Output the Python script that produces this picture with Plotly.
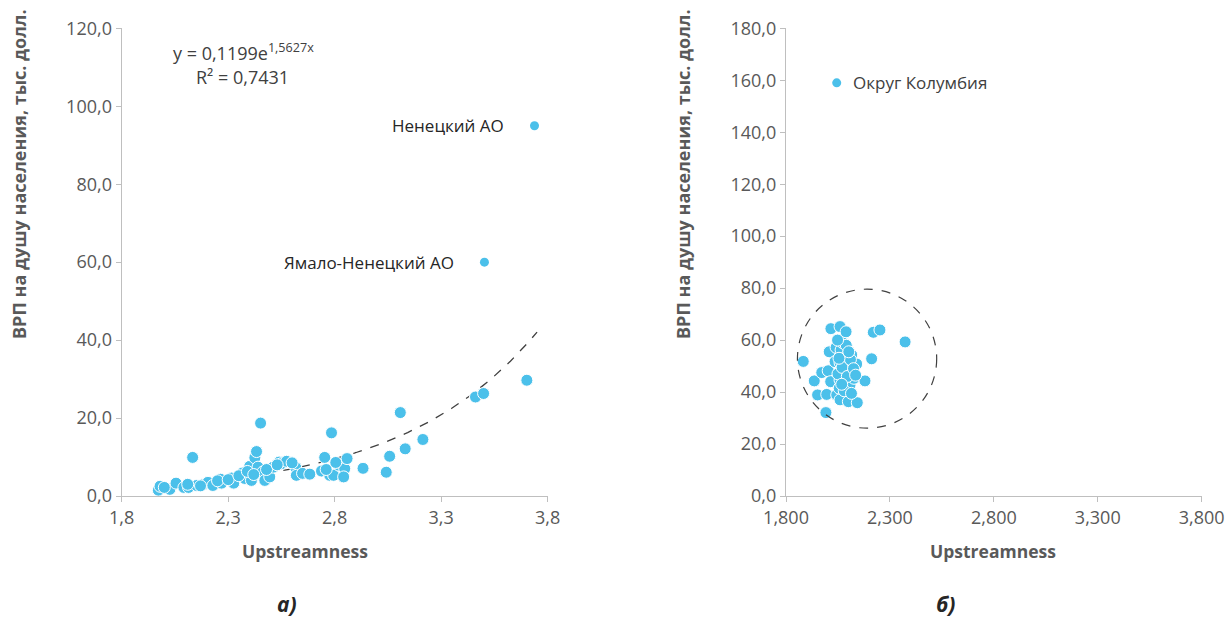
import numpy as np
import plotly.graph_objects as go

# ---- Data: panel a) Russian regions ----
ru_x = [1.972, 1.980, 2.026, 2.055, 2.092, 2.114, 2.133, 2.152, 2.186, 2.205,
        2.228, 2.264, 2.269, 2.316, 2.326, 2.367, 2.378, 2.401, 2.409, 2.425,
        2.433, 2.452, 2.440, 2.464, 2.472, 2.495, 2.511, 2.539, 2.550, 2.574,
        2.617, 2.620, 2.649, 2.683, 2.738, 2.753, 2.777, 2.785, 2.795, 2.820,
        2.847, 2.842, 2.858, 2.933, 3.042, 3.058, 3.108, 3.131, 3.214, 3.461,
        3.499, 3.702,
        2.000, 2.110, 2.170, 2.250, 2.300, 2.350, 2.390, 2.420, 2.480, 2.530,
        2.600, 2.760, 2.805]
ru_y = [1.5, 2.5, 1.7, 3.3, 2.2, 2.2, 9.9, 2.7, 3.0, 3.5,
        2.7, 4.3, 3.3, 4.6, 3.3, 5.9, 4.5, 7.6, 4.0, 9.8,
        11.4, 18.7, 7.4, 6.2, 4.0, 4.9, 7.4, 8.7, 8.3, 8.9,
        7.3, 5.3, 5.8, 5.6, 6.4, 9.9, 5.3, 16.2, 5.3, 7.9,
        7.0, 4.9, 9.6, 7.1, 6.1, 10.2, 21.4, 12.1, 14.5, 25.4,
        26.3, 29.7,
        2.2, 3.0, 2.6, 3.9, 4.2, 5.2, 6.3, 5.5, 6.8, 8.0,
        8.5, 6.8, 8.6]
ru_lab_x = [3.738, 3.503]
ru_lab_y = [95.0, 60.0]
ru_lab_text = ["Ненецкий АО", "Ямало-Ненецкий АО"]

# Trendline shown on chart: y = 0,1199 e^(1,5627x)
trend_a = 0.1199
trend_b = 1.5627

# ---- Data: panel б) US states ----
us_x = [1.883, 1.936, 1.952, 1.972, 1.996, 2.003, 1.992, 2.008, 2.016, 2.015,
        2.036, 2.041, 2.044, 2.060, 2.065, 2.060, 2.060, 2.056, 2.060, 2.073,
        2.084, 2.089, 2.092, 2.100, 2.100, 2.108, 2.116, 2.121, 2.127, 2.140,
        2.143, 2.180, 2.212, 2.220, 2.252, 2.373,
        2.050, 2.070, 2.095, 2.110, 2.125, 2.080, 2.135, 2.055, 2.090, 2.115,
        2.068, 2.102, 2.048]
us_y = [51.8, 44.3, 38.9, 47.5, 39.1, 48.2, 32.1, 55.5, 64.4, 44.0,
        51.7, 57.2, 38.9, 65.2, 56.2, 51.3, 44.6, 41.5, 37.0, 59.0,
        44.6, 63.2, 53.9, 51.1, 36.3, 42.7, 54.3, 47.8, 45.3, 50.8,
        35.9, 44.3, 52.8, 63.0, 63.9, 59.3,
        47.0, 49.5, 46.0, 52.5, 49.0, 40.5, 46.5, 53.0, 58.0, 39.5,
        43.0, 55.5, 60.0]
us_lab_x = [2.044]
us_lab_y = [159.0]
us_lab_text = ["Округ Колумбия"]

# highlighted cluster (ellipse) in panel б)
circle_x = [1.855, 2.525]
circle_y = [26.1, 79.6]

MARKER = "#4BC0EA"
TICK = "#595959"
AXIS = "#BFBFBF"
FONT = "Open Sans"

fig = go.Figure()

# trendline
tx = np.linspace(min(ru_x), 3.75, 200)
ty = trend_a * np.exp(trend_b * tx)
fig.add_trace(go.Scatter(x=tx, y=ty, mode="lines",
                         line=dict(color="#404040", width=1.3, dash="dash"),
                         xaxis="x", yaxis="y", showlegend=False, hoverinfo="skip"))
fig.add_trace(go.Scatter(x=ru_x, y=ru_y, mode="markers",
                         marker=dict(color=MARKER, size=12, line=dict(color="white", width=1)),
                         xaxis="x", yaxis="y", showlegend=False))
fig.add_trace(go.Scatter(x=ru_lab_x, y=ru_lab_y, mode="markers",
                         marker=dict(color=MARKER, size=9),
                         xaxis="x", yaxis="y", showlegend=False))

fig.add_trace(go.Scatter(x=us_x, y=us_y, mode="markers",
                         marker=dict(color=MARKER, size=12, line=dict(color="white", width=1)),
                         xaxis="x2", yaxis="y2", showlegend=False))
fig.add_trace(go.Scatter(x=us_lab_x, y=us_lab_y, mode="markers",
                         marker=dict(color=MARKER, size=9),
                         xaxis="x2", yaxis="y2", showlegend=False))

fig.add_shape(type="circle", xref="x2", yref="y2",
              x0=circle_x[0], x1=circle_x[1], y0=circle_y[0], y1=circle_y[1],
              line=dict(color="#404040", width=1.2, dash="dash"))

ax_common = dict(showgrid=False, zeroline=False, showline=True, linecolor=AXIS,
                 linewidth=1.3, ticks="outside", ticklen=5, tickcolor=AXIS,
                 automargin=False,
                 tickfont=dict(family=FONT, size=18, color=TICK))

ydom = [(617 - 496) / 617, (617 - 28.3) / 617]
fig.update_layout(
    width=1226, height=617,
    margin=dict(l=0, r=0, t=0, b=0, autoexpand=False),
    paper_bgcolor="white", plot_bgcolor="white",
    separators=", ",
    font=dict(family=FONT),
    xaxis=dict(domain=[121.7 / 1226, 547.7 / 1226], range=[1.8, 3.8],
               tickvals=[1.8, 2.3, 2.8, 3.3, 3.8], tickformat=".1f",
               anchor="y", **ax_common),
    yaxis=dict(domain=ydom, range=[0, 120], dtick=20, tickformat=".1f",
               anchor="x", **ax_common),
    xaxis2=dict(domain=[786 / 1226, 1201.7 / 1226], range=[1.8, 3.8],
                tickvals=[1.8, 2.3, 2.8, 3.3, 3.8], tickformat=".3f",
                anchor="y2", **ax_common),
    yaxis2=dict(domain=ydom, range=[0, 180], dtick=20, tickformat=".1f",
                anchor="x2", **ax_common),
)

ann = []
for lx, ly, lt in zip(ru_lab_x, ru_lab_y, ru_lab_text):
    ann.append(dict(text=lt, x=lx, y=ly, xref="x", yref="y", showarrow=False,
                    xanchor="right", yanchor="middle", xshift=-28,
                    font=dict(family=FONT, size=17, color="#262626")))
for lx, ly, lt in zip(us_lab_x, us_lab_y, us_lab_text):
    ann.append(dict(text=lt, x=lx, y=ly, xref="x2", yref="y2", showarrow=False,
                    xanchor="left", yanchor="middle", xshift=14,
                    font=dict(family=FONT, size=17, color="#404040")))
for xc in [305 / 1226, 993 / 1226]:
    ann.append(dict(text="<b>Upstreamness</b>", x=xc, y=1 - 551 / 617, xref="paper", yref="paper",
                    showarrow=False, font=dict(family=FONT, size=17.5, color=TICK),
                    xanchor="center", yanchor="middle"))
for xc in [19 / 1226, 683 / 1226]:
    ann.append(dict(text="<b>ВРП на душу населения, тыс. долл.</b>", x=xc, y=1 - 174 / 617,
                    xref="paper", yref="paper", showarrow=False, textangle=-90,
                    font=dict(family=FONT, size=18, color=TICK),
                    xanchor="center", yanchor="middle"))
ann.append(dict(text="y = 0,1199e<sup>1,5627x</sup>", x=243 / 1226, y=1 - 52 / 617,
                xref="paper", yref="paper", showarrow=False,
                font=dict(family=FONT, size=18, color="#404040"), xanchor="center", yanchor="middle"))
ann.append(dict(text="R² = 0,7431", x=242 / 1226, y=1 - 77 / 617,
                xref="paper", yref="paper", showarrow=False,
                font=dict(family=FONT, size=18, color="#404040"), xanchor="center", yanchor="middle"))
for txt, xc in [("а)", 287 / 1226), ("б)", 945 / 1226)]:
    ann.append(dict(text="<b><i>" + txt + "</i></b>", x=xc, y=1 - 604 / 617,
                    xref="paper", yref="paper", showarrow=False,
                    font=dict(family=FONT, size=21, color="#262626"),
                    xanchor="center", yanchor="middle"))
fig.update_layout(annotations=ann)

fig.write_html("out.html", config={"displayModeBar": False},
               post_script="document.body.style.margin='0px';document.body.style.overflow='hidden';")
